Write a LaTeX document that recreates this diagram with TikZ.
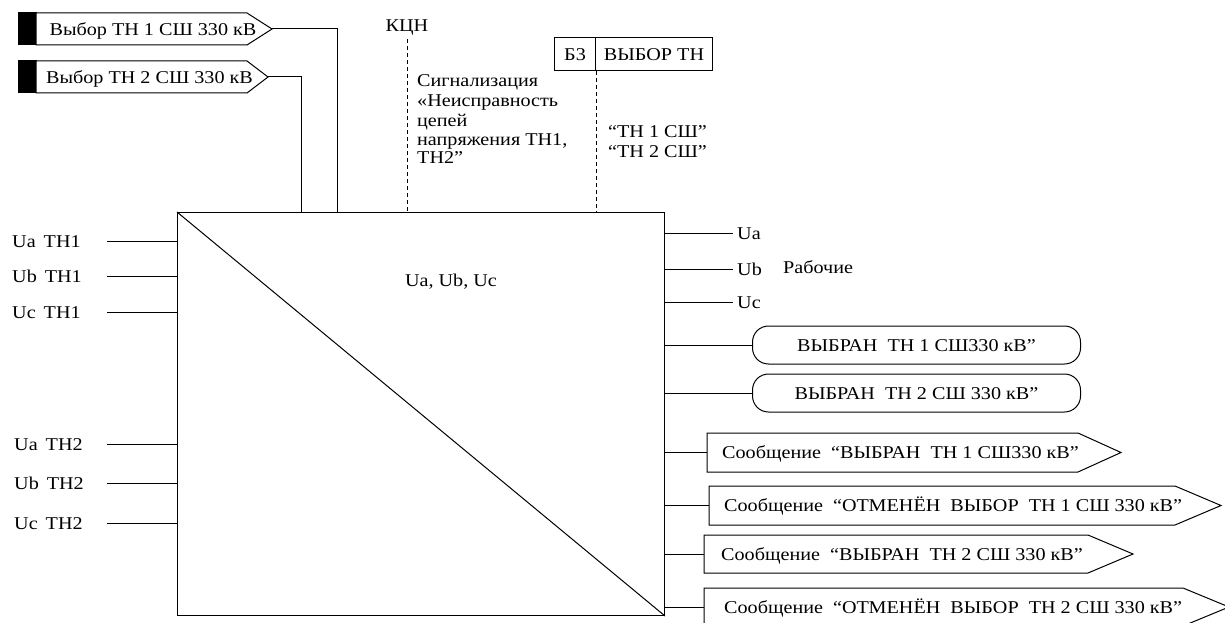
\documentclass[tikz,border=0pt]{standalone}
\usepackage{fontspec}
\setmainfont{Liberation Serif}[FakeStretch=1.12]
\begin{document}
\begin{tikzpicture}[x=1pt,y=-1pt,
  lbl/.style={inner sep=0pt, text height=12.5pt, text depth=0pt, font=\fontsize{18}{20}\selectfont},
  wire/.style={line width=1pt},
  sigline/.style={line width=0.9pt, dash pattern=on 4pt off 3pt},
  box/.style={draw, line width=1pt, inner sep=0pt, text height=12.5pt, text depth=0pt, font=\fontsize{18}{20}\selectfont}]
\useasboundingbox (0,0) rectangle (1225,623);
\clip (0,0) rectangle (1225,623);
% main block
\node[box, minimum width=487pt, minimum height=403pt, anchor=north west] (blk) at (177,212) {};
\draw[wire] (blk.north west) -- (blk.south east);
\node[lbl] (cu) at (451,280) {Ua, Ub, Uc};
% left inputs
\node[lbl, anchor=west] (ua1) at (12,241) {Ua\,\ TH1};
\node[lbl, anchor=west] (ub1) at (12,276) {Ub\,\ TH1};
\node[lbl, anchor=west] (uc1) at (12,312) {Uc\,\ TH1};
\node[lbl, anchor=west] (ua2) at (14,444) {Ua\,\ TH2};
\node[lbl, anchor=west] (ub2) at (14,483) {Ub\,\ TH2};
\node[lbl, anchor=west] (uc2) at (14,523) {Uc\,\ TH2};
\coordinate (ia1) at (107,241);
\coordinate (ib1) at (107,276);
\coordinate (ic1) at (107,312);
\coordinate (ia2) at (107,444);
\coordinate (ib2) at (107,483);
\coordinate (ic2) at (107,523);
\foreach \c in {ia1,ib1,ic1,ia2,ib2,ic2}{\draw[wire] (\c) -- (\c -| blk.west);}
% top selectors
\filldraw[wire] (18,13) rectangle (36,45);
\draw[wire, fill=white] (36,13) -- (247,13) -- (272,29) -- (247,45) -- (36,45) -- cycle;
\node[lbl] (sel1) at (153,29) {Выбор ТН 1 СШ 330 кВ};
\coordinate (s1tip) at (272,29);
\draw[wire] (s1tip) -| ([xshift=160pt]blk.north west);
\filldraw[wire] (18,61) rectangle (36,93);
\draw[wire, fill=white] (36,61) -- (247,61) -- (268,77) -- (247,93) -- (36,93) -- cycle;
\node[lbl] (sel2) at (149.5,77) {Выбор ТН 2 СШ 330 кВ};
\coordinate (s2tip) at (268,77);
\draw[wire] (s2tip) -| ([xshift=124pt]blk.north west);
% KCN
\node[lbl] (kcn) at (407,25) {КЦН};
\draw[sigline] ([yshift=-8pt]kcn.south) -- (kcn.south |- blk.north);
\node[lbl, anchor=west] (sg1) at (417,80) {Сигнализация};
\node[lbl, anchor=west] (sg2) at (417,100) {«Неисправность};
\node[lbl, anchor=west] (sg3) at (417,120) {цепей};
\node[lbl, anchor=west] (sg4) at (417,139) {напряжения ТН1,};
\node[lbl, anchor=west] (sg5) at (417,157) {ТН2"};
% B3
\node[box, minimum width=41pt, minimum height=33pt, anchor=north west] (b3) at (554,37) {Б3};
\node[box, minimum width=117pt, minimum height=33pt, anchor=north west] (vtn) at (595,37) {ВЫБОР ТН};
\draw[sigline] (b3.south east) -- (b3.south east |- blk.north);
\node[lbl, anchor=west] (t1) at (608,131) {“ТН 1 СШ”};
\node[lbl, anchor=west] (t2) at (608,151) {“ТН 2 СШ”};
% right outputs
\coordinate (oa) at (733,233);
\coordinate (ob) at (733,269);
\coordinate (oc) at (733,302);
\foreach \c in {oa,ob,oc}{\draw[wire] (\c -| blk.east) -- (\c);}
\node[lbl, anchor=west] (la) at (737,233) {Ua};
\node[lbl, anchor=west] (lb) at (737,269) {Ub};
\node[lbl, anchor=west] (lc) at (737,302) {Uc};
\node[lbl, anchor=west] (rab) at (783,267) {Рабочие};
% rounded outputs
\node[box, rounded corners=16pt, minimum width=328pt, minimum height=38pt, anchor=west] (r1) at (752,345) {ВЫБРАН\ \ ТН 1 СШ330 кВ”};
\node[box, rounded corners=16pt, minimum width=328pt, minimum height=38pt, anchor=west] (r2) at (752,393) {ВЫБРАН\ \ ТН 2 СШ 330 кВ”};
\draw[wire] (r1.west -| blk.east) -- (r1.west);
\draw[wire] (r2.west -| blk.east) -- (r2.west);
% messages
\draw[wire, fill=white] (707,433) -- (1078,433) -- (1121,452.5) -- (1078,472) -- (707,472) -- cycle;
\coordinate (m1w) at (707,452.5);
\node[lbl, anchor=west] (m1) at (722,452.5) {Сообщение\ \ “ВЫБРАН\ \ ТН 1 СШ330 кВ”};
\draw[wire] (m1w -| blk.east) -- (m1w);
\draw[wire, fill=white] (709,486) -- (1175,486) -- (1221,505.5) -- (1175,525) -- (709,525) -- cycle;
\coordinate (m2w) at (709,505.5);
\node[lbl, anchor=west] (m2) at (724,505.5) {Сообщение\ \ “ОТМЕНЁН\ \ ВЫБОР\ \ ТН 1 СШ 330 кВ”};
\draw[wire] (m2w -| blk.east) -- (m2w);
\draw[wire, fill=white] (704,535) -- (1088,535) -- (1133,554) -- (1088,573) -- (704,573) -- cycle;
\coordinate (m3w) at (704,554);
\node[lbl, anchor=west] (m3) at (721,554) {Сообщение\ \ “ВЫБРАН\ \ ТН 2 СШ 330 кВ”};
\draw[wire] (m3w -| blk.east) -- (m3w);
\draw[wire, fill=white] (704,588) -- (1183,588) -- (1229,607) -- (1183,626) -- (704,626) -- cycle;
\coordinate (m4w) at (704,607);
\node[lbl, anchor=west] (m4) at (724,607) {Сообщение\ \ “ОТМЕНЁН\ \ ВЫБОР\ \ ТН 2 СШ 330 кВ”};
\draw[wire] (m4w -| blk.east) -- (m4w);
\end{tikzpicture}
\end{document}
